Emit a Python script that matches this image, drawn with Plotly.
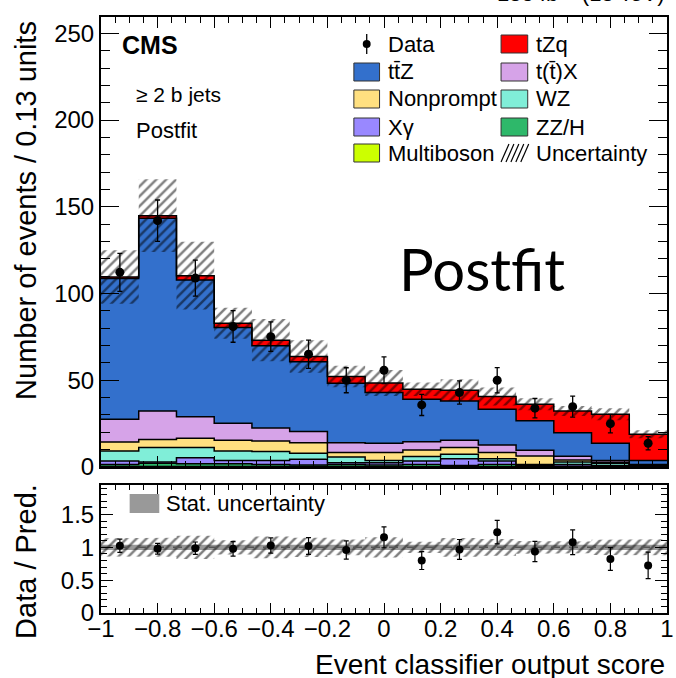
import plotly.graph_objects as go

# ---------------- data ----------------
edges = [-1 + 2 * i / 15 for i in range(16)]
centers = [(edges[i] + edges[i + 1]) / 2 for i in range(15)]

multiboson = [0.3, 0.3, 0.3, 0.3, 0.3, 0.3, 0.3, 0.2, 0.2, 0.2, 0.2, 0.1, 0.1, 0.1, 0.1]
zz_h = [1.2, 1.8, 1.6, 1.6, 1.2, 0.9, 1.2, 1.0, 1.3, 0.6, 1.3, 0.4, 0.4, 0.3, 0.1]
x_gamma = [2.0, 0.8, 3.5, 1.9, 2.3, 3.2, 1.0, 1.3, 2.0, 4.0, 2.0, 0.5, 1.0, 0.4, 0.2]
wz = [5.7, 8.3, 5.8, 5.4, 5.1, 3.5, 3.3, 1.3, 2.5, 2.5, 1.3, 0.5, 1.4, 1.3, 0.3]
nonprompt = [5.2, 4.6, 5.4, 6.2, 6.1, 6.1, 2.5, 4.5, 3.8, 3.9, 3.5, 4.9, 1.1, 0.6, 0.3]
ttx = [13.1, 16.5, 12.3, 9.8, 7.5, 6.4, 5.7, 5.4, 4.8, 4.2, 4.4, 3.2, 2.2, 1.1, 0.5]
ttz = [81.2, 111.1, 78.9, 55.2, 47.4, 40.2, 34.3, 29.3, 24.5, 22.7, 20.6, 17.0, 13.6, 9.9, 2.3]
tzq = [0.8, 1.5, 2.5, 2.5, 3.2, 3.1, 3.8, 5.4, 5.7, 6.2, 7.3, 9.6, 12.5, 16.7, 15.1]

data = [112.2, 142.0, 108.9, 81.0, 75.1, 65.0, 50.0, 55.8, 35.8, 42.9, 50.0, 33.9, 34.8, 25.0, 13.7]
data_err = [11.0, 11.9, 10.4, 9.1, 8.5, 8.1, 7.2, 7.7, 6.1, 6.7, 7.3, 5.6, 6.1, 5.3, 3.8]
total_unc = [15.4, 21.0, 19.5, 8.9, 12.2, 9.3, 6.2, 7.5, 3.9, 6.3, 5.2, 3.5, 2.9, 3.5, 2.3]
stat_rel = [0.04, 0.04, 0.04, 0.04, 0.04, 0.04, 0.04, 0.04, 0.04, 0.04, 0.04, 0.04, 0.04, 0.04, 0.04]

components = [
    ("Multiboson", multiboson, "#ccff00"),
    ("ZZ/H", zz_h, "#2eb86a"),
    ("X\u03b3", x_gamma, "#9988ff"),
    ("WZ", wz, "#80eed8"),
    ("Nonprompt", nonprompt, "#ffe080"),
    ("t(t\u0304)X", ttx, "#d6a3e8"),
    ("tt\u0304Z", ttz, "#3370cc"),
    ("tZq", tzq, "#ff0000"),
]

FONT = "Liberation Sans"
W, H = 676, 678
L, R, T, B = 101, 2, 17, 65


def px(xp):
    return (xp - L) / (W - L - R)


def py(yp):
    return (H - B - yp) / (H - T - B)


def step(vals):
    return list(vals) + [vals[-1]]


def band_path(lo, hi):
    xs, ys = [], []
    for i in range(15):
        xs += [edges[i], edges[i + 1]]
        ys += [hi[i], hi[i]]
    for i in reversed(range(15)):
        xs += [edges[i + 1], edges[i]]
        ys += [lo[i], lo[i]]
    return xs + [xs[0]], ys + [ys[0]]


HATCH = dict(shape="/", fgcolor="black", bgcolor="rgba(0,0,0,0)", size=7, solidity=0.35)

fig = go.Figure()

# stacked histograms
cum = [0.0] * 15
for k, (name, vals, col) in enumerate(components):
    cum = [c + v for c, v in zip(cum, vals)]
    fig.add_trace(go.Scatter(
        x=edges, y=step(cum), mode="lines", line=dict(shape="hv", color="black", width=1.5),
        fill="tozeroy" if k == 0 else "tonexty", fillcolor=col, name=name, showlegend=False,
        xaxis="x", yaxis="y"))
total = cum

# uncertainty hatch
hx, hy = band_path([t - u for t, u in zip(total, total_unc)], [t + u for t, u in zip(total, total_unc)])
fig.add_trace(go.Scatter(
    x=hx, y=hy, mode="lines", line=dict(width=0), fill="toself", fillcolor="rgba(0,0,0,0)",
    fillpattern=HATCH, showlegend=False, xaxis="x", yaxis="y"))

# data
fig.add_trace(go.Scatter(
    x=centers, y=data, mode="markers", marker=dict(color="black", size=9),
    error_y=dict(type="data", array=data_err, color="black", thickness=1.3, width=2.5),
    showlegend=False, xaxis="x", yaxis="y"))

# ---------------- ratio panel ----------------
rel_unc = [u / t for u, t in zip(total_unc, total)]
rx, ry = band_path([1 - r for r in rel_unc], [1 + r for r in rel_unc])
sx, sy = band_path([1 - s for s in stat_rel], [1 + s for s in stat_rel])
fig.add_trace(go.Scatter(
    x=sx, y=sy, mode="lines", line=dict(width=0), fill="toself", fillcolor="#999999",
    showlegend=False, xaxis="x2", yaxis="y2"))
fig.add_trace(go.Scatter(
    x=rx, y=ry, mode="lines", line=dict(width=0), fill="toself", fillcolor="rgba(0,0,0,0)",
    fillpattern=HATCH, showlegend=False, xaxis="x2", yaxis="y2"))
fig.add_trace(go.Scatter(
    x=[-1, 1], y=[1, 1], mode="lines", line=dict(color="#555555", width=1.5, dash="dash"),
    showlegend=False, xaxis="x2", yaxis="y2"))
ratio = [d / t for d, t in zip(data, total)]
ratio_err = [e / t for e, t in zip(data_err, total)]
fig.add_trace(go.Scatter(
    x=centers, y=ratio, mode="markers", marker=dict(color="black", size=8),
    error_y=dict(type="data", array=ratio_err, color="black", thickness=1.2, width=2.5),
    showlegend=False, xaxis="x2", yaxis="y2"))

y_top = py(467)
y2_top = py(485)

axis_common = dict(showline=True, linecolor="black", linewidth=2, mirror="allticks", ticks="inside",
                   tickcolor="black", showgrid=False, zeroline=False,
                   tickfont=dict(family=FONT, size=24, color="black"))

fig.update_layout(
    width=W, height=H, margin=dict(l=L, r=R, t=T, b=B),
    paper_bgcolor="white", plot_bgcolor="white", showlegend=False,
    xaxis=dict(domain=[0, 1], range=[-1, 1], anchor="y", showticklabels=False, tick0=-1, dtick=0.2,
               ticklen=11, tickwidth=1.2, minor=dict(ticks="inside", dtick=0.05, ticklen=6, tickcolor="black"),
               **axis_common),
    yaxis=dict(domain=[y_top, 1], range=[0, 259.4], anchor="x", dtick=50, ticklen=18, tickwidth=1.2,
               minor=dict(ticks="inside", dtick=10, ticklen=9, tickcolor="black"), **axis_common),
    xaxis2=dict(domain=[0, 1], range=[-1, 1], anchor="y2", tick0=-1, dtick=0.2, ticklen=10, tickwidth=1.2,
                ticklabeloverflow="allow", ticklabelstandoff=-7,
                minor=dict(ticks="inside", dtick=0.05, ticklen=5, tickcolor="black"), **axis_common),
    yaxis2=dict(domain=[0, y2_top], range=[0, 1.95], anchor="x2", dtick=0.5, ticklen=12, tickwidth=1.2,
                minor=dict(ticks="inside", dtick=0.1, ticklen=6, tickcolor="black"), **axis_common),
)

ann = []


def text(x, y, s, size, xanchor="left", yanchor="middle", family=FONT, angle=0, bold=False):
    ann.append(dict(x=x, y=y, xref="paper", yref="paper", text=("<b>%s</b>" % s) if bold else s,
                    showarrow=False, xanchor=xanchor, yanchor=yanchor, textangle=angle,
                    font=dict(family=family, size=size, color="black")))


text(px(120), py(45), "CMS", 25, bold=True)
text(px(134), py(95), "\u2265 2 b jets", 21)
text(px(134), py(130), "Postfit", 22)
text(px(401), py(268), "Postfit", 58, family="Lato")
text(px(674), py(-8), "138 fb<sup>\u22121</sup> (13 TeV)", 22, xanchor="right")
text(px(674), py(664), "Event classifier output score", 28, xanchor="right")
text(px(25), py(210), "Number of events / 0.13 units", 29, xanchor="center", angle=-90)
text(px(25), py(561), "Data / Pred.", 29, xanchor="center", angle=-90)
text(px(165), py(503), "Stat. uncertainty", 22)

shapes = []
# stat legend box
shapes.append(dict(type="rect", xref="paper", yref="paper", x0=px(130), x1=px(160), y0=py(513), y1=py(494),
                   fillcolor="#999999", line=dict(width=0)))

# main legend
rows = [44, 72, 99, 127, 153]
col_box = [(357, 383, 390), (506, 533, 539)]
entries = [
    (0, 0, "Data", None),
    (1, 0, "tZq", "#ff0000"),
    (0, 1, "tt\u0304Z", "#3370cc"),
    (1, 1, "t(t\u0304)X", "#d6a3e8"),
    (0, 2, "Nonprompt", "#ffe080"),
    (1, 2, "WZ", "#80eed8"),
    (0, 3, "X\u03b3", "#9988ff"),
    (1, 3, "ZZ/H", "#2eb86a"),
    (0, 4, "Multiboson", "#ccff00"),
    (1, 4, "Uncertainty", "hatch"),
]
for c, r, label, col in entries:
    bx0, bx1, tx = col_box[c]
    yc = rows[r]
    text(px(tx), py(yc), label, 22)
    if col is None:
        xm = (bx0 + bx1) / 2
        shapes.append(dict(type="line", xref="paper", yref="paper", x0=px(xm), x1=px(xm),
                           y0=py(yc - 10), y1=py(yc + 10), line=dict(color="black", width=1.3)))
        shapes.append(dict(type="circle", xref="paper", yref="paper", x0=px(xm - 4), x1=px(xm + 4),
                           y0=py(yc + 4), y1=py(yc - 4), fillcolor="black", line=dict(width=0)))
    elif col == "hatch":
        for k in range(5):
            xa = bx0 + k * 5
            shapes.append(dict(type="line", xref="paper", yref="paper", x0=px(xa), x1=px(xa + 8),
                               y0=py(yc + 9), y1=py(yc - 9), line=dict(color="black", width=1.2)))
    else:
        shapes.append(dict(type="rect", xref="paper", yref="paper", x0=px(bx0), x1=px(bx1),
                           y0=py(yc + 9), y1=py(yc - 9), fillcolor=col, line=dict(color="#333333", width=1)))

fig.update_layout(annotations=ann, shapes=shapes)
fig.write_html("out.html")
